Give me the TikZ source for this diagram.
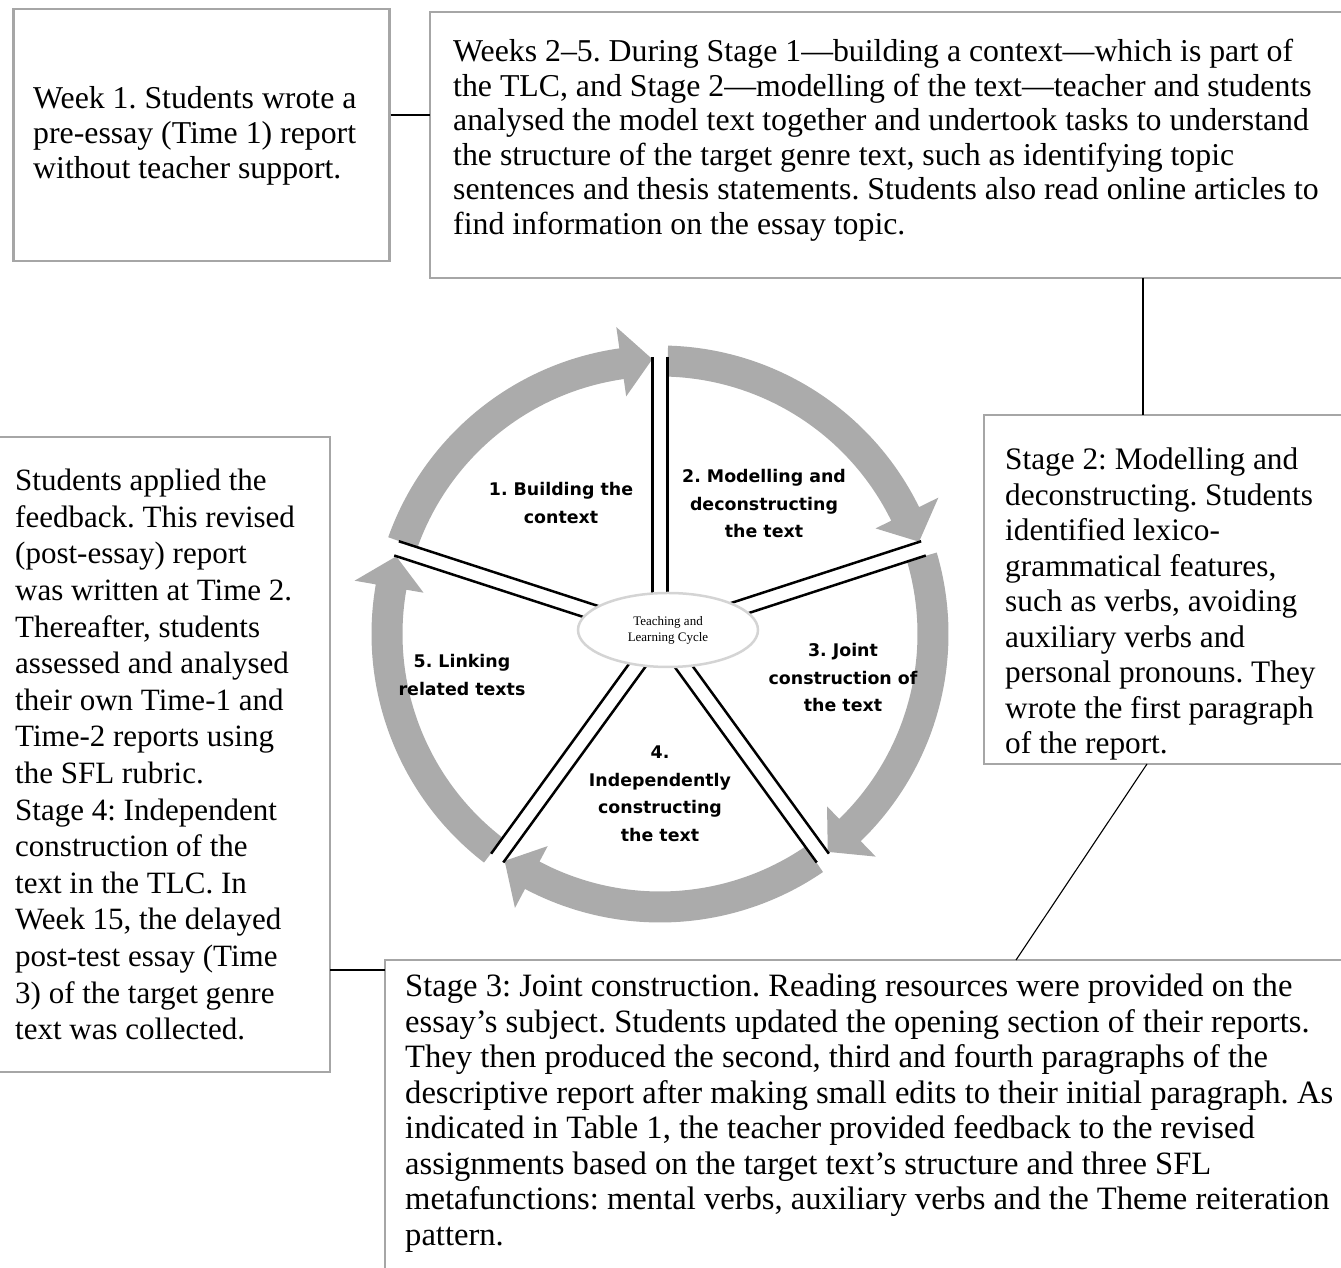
\documentclass[tikz,border=0pt]{standalone}
\usepackage{fontspec}
\setmainfont{Liberation Serif}
\newfontfamily\lblfont{DejaVu Sans}
\usetikzlibrary{calc,shapes.geometric}
\definecolor{framegray}{RGB}{166,166,166}
\definecolor{ringgray}{RGB}{171,171,171}
\definecolor{ellgray}{RGB}{212,212,212}
\frenchspacing
\tikzset{
 frame/.style={draw=framegray, line width=2.5pt},
 link/.style={draw=black, line width=1.1pt},
 boxtext/.style={anchor=north west, inner sep=0pt, align=left},
 stagelabel/.style={align=center, inner sep=0pt, font=\lblfont\bfseries\fontsize{17.4}{27.5}\selectfont},
 ringarrow/.style={fill=ringgray},
 divider/.style={draw=black, line width=2.5pt},
}
\begin{document}
\begin{tikzpicture}[x=1pt,y=1pt]
\useasboundingbox (0,0) rectangle (1341,1268);
% ---------- cycle ring ----------
\begin{scope}[shift={(660,634)}]
\foreach \s in {162,90,18,-54,-126} {
  \pgfmathsetmacro\az{\s-1.6}
  \pgfmathsetmacro\at{\s-72+1.6}
  \pgfmathsetmacro\ab{\at+6.5}
  \fill[ringarrow] (\az:288.5pt) arc[start angle=\az, end angle=\ab, radius=288.5pt]
     -- (\ab:310pt) -- (\at:275pt) -- (\ab:240pt) -- (\ab:257.5pt)
     arc[start angle=\ab, end angle=\az, radius=257.5pt] -- cycle;
}
\foreach \t in {90,18,-54,-126,162} {
  \begin{scope}[rotate=\t]
    \draw[divider] (0,7.5) -- (277,7.5);
    \draw[divider] (0,-7.5) -- (277,-7.5);
  \end{scope}
}
\end{scope}
\node[ellipse, draw=ellgray, line width=2.5pt, fill=white, minimum width=180pt,
      minimum height=74pt, inner sep=0pt, align=center,
      font=\fontsize{13}{16}\selectfont] (tlc) at (668,638) {Teaching and\\Learning Cycle};
% ---------- stage labels ----------
\node[stagelabel] (l1) at (561,765) {1. Building the\\context};
\node[stagelabel] (l2) at (764,764) {2. Modelling and\\deconstructing\\the text};
\node[stagelabel] (l3) at (843,590) {3. Joint\\construction of\\the text};
\node[stagelabel] (l4) at (660,474) {4.\\Independently\\constructing\\the text};
\node[stagelabel] (l5) at (462,593) {5. Linking\\related texts};
% ---------- frames ----------
\node[frame, anchor=north west, inner sep=0pt, minimum width=376pt, minimum height=252pt] (fA) at (12,1260) {};
\draw[frame] (1345,1256) -| (430,990) -- (1345,990);
\draw[frame] (1345,853) -| (984,504) -- (1345,504);
\draw[frame] (1345,308) -| (385,-5);
\draw[frame] (-5,831) -| (330,196) -- (-5,196);
\coordinate (fBw) at (430,1153);
\coordinate (fBs) at (1143,990);
\coordinate (fCn) at (1143,853);
\coordinate (fCs) at (1147,504);
\coordinate (fDn) at (1016,308);
\coordinate (fDw) at (385,298);
\coordinate (fEe) at (330,298);
% ---------- texts ----------
\node[boxtext, font=\fontsize{31.8}{35}\selectfont] (tA) at (33,1182) {Week 1. Students wrote a\\pre-essay (Time 1) report\\without teacher support.};
\node[boxtext, font=\fontsize{31.8}{34.5}\selectfont] (tB) at (453,1229) {Weeks 2–5. During Stage 1—building a context—which is part of\\the TLC, and Stage 2—modelling of the text—teacher and students\\analysed the model text together and undertook tasks to understand\\the structure of the target genre text, such as identifying topic\\sentences and thesis statements. Students also read online articles to\\find information on the essay topic.};
\node[boxtext, font=\fontsize{31.3}{35.5}\selectfont] (tC) at (1005,820) {Stage 2: Modelling and\\deconstructing. Students\\identified lexico-\\grammatical features,\\such as verbs, avoiding\\auxiliary verbs and\\personal pronouns. They\\wrote the first paragraph\\of the report.};
\node[boxtext, font=\fontsize{32.6}{35.5}\selectfont] (tD) at (405,294) {Stage 3: Joint construction. Reading resources were provided on the\\essay’s subject. Students updated the opening section of their reports.\\They then produced the second, third and fourth paragraphs of the\\descriptive report after making small edits to their initial paragraph. As\\indicated in Table 1, the teacher provided feedback to the revised\\assignments based on the target text's structure and three SFL\\metafunctions: mental verbs, auxiliary verbs and the Theme reiteration\\pattern.};
\node[boxtext, font=\fontsize{31}{36.6}\selectfont] (tE) at (15,799) {Students applied the\\feedback. This revised\\(post-essay) report\\was written at Time 2.\\Thereafter, students\\assessed and analysed\\their own Time-1 and\\Time-2 reports using\\the SFL rubric.\\Stage 4: Independent\\construction of the\\text in the TLC. In\\Week 15, the delayed\\post-test essay (Time\\3) of the target genre\\text was collected.};
% ---------- connectors ----------
\draw[link] (fA.east |- fBw) -- (fBw);
\draw[link] (fBs) -- (fCn);
\draw[link] (fCs) -- (fDn);
\draw[link] (fEe) -- (fDw);
\end{tikzpicture}
\end{document}
